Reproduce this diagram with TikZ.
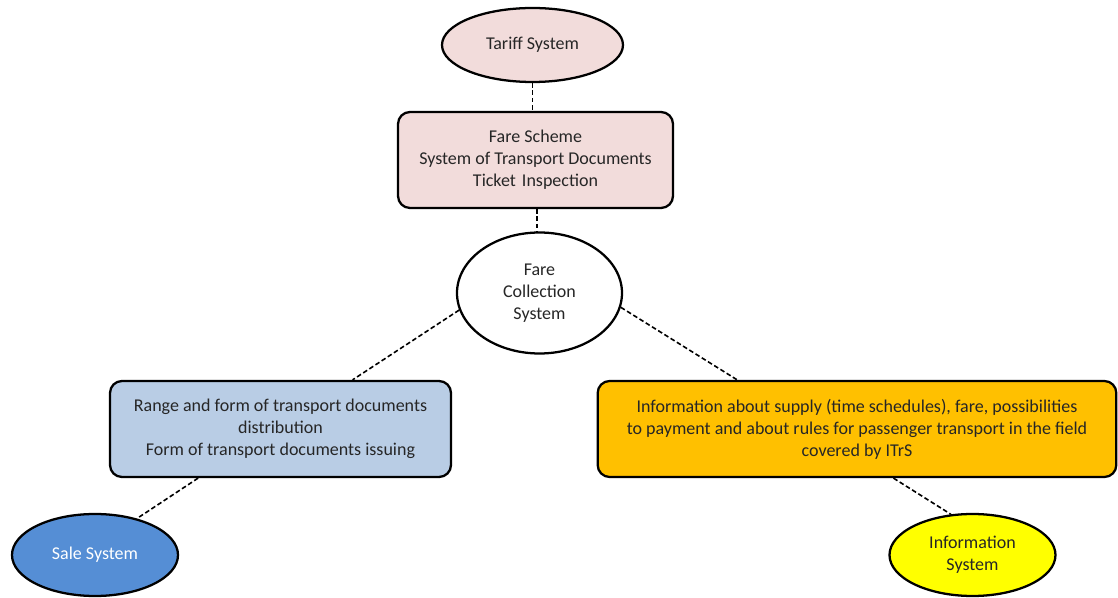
\documentclass[tikz,border=0pt]{standalone}
\usepackage{fontspec}
\setmainfont{Carlito}
\usetikzlibrary{shapes.geometric,calc}
\definecolor{pinkfill}{HTML}{F2DCDB}
\definecolor{bluefill}{HTML}{B9CDE5}
\definecolor{darkblue}{HTML}{558ED5}
\definecolor{orangefill}{HTML}{FFC000}
\definecolor{yellowfill}{HTML}{FFFF00}
\definecolor{txt}{HTML}{262626}
\begin{document}
\begin{tikzpicture}[x=0.75pt,y=-0.75pt,
  every node/.style={font=\fontsize{13.5}{16.5}\selectfont, text=txt},
  ell/.style={ellipse, draw=black, line width=1.7pt, inner sep=0pt, align=center},
  rbox/.style={rectangle, rounded corners=9pt, draw=black, line width=1.7pt, align=center, inner sep=0pt},
  conn/.style={draw=black, line width=1.2pt, dash pattern=on 3.5pt off 2pt}]
\useasboundingbox (0,0) rectangle (1118,598);
\node[ell, fill=pinkfill, minimum width=135.75pt, minimum height=55.5pt] (tariff) at (532.5,45) {Tariff System};
\node[rbox, fill=pinkfill, minimum width=206.25pt, minimum height=72pt] (scheme) at (535.5,160) {Fare Scheme\\System of Transport Documents\\Ticket\,\,Inspection};
\node[ell, fill=white, minimum width=123.75pt, minimum height=90.75pt] (fc) at (539.5,293) {Fare\\Collection\\System};
\node[rbox, fill=bluefill, minimum width=255.75pt, minimum height=72pt] (range) at (280.5,429) {Range and form of transport documents\\distribution\\Form of transport documents issuing};
\node[rbox, fill=orangefill, minimum width=389pt, minimum height=72pt] (info) at (857,429) {Information about supply (time schedules), fare, possibilities\\to payment and about rules for passenger transport in the field\\covered by ITrS};
\node[ell, fill=darkblue, minimum width=124.5pt, minimum height=61.5pt, text=white] (sale) at (95,555) {Sale System};
\node[ell, fill=yellowfill, minimum width=124.5pt, minimum height=61.5pt] (isys) at (972.5,555) {Information\\System};
\draw[conn] (tariff.south) -- (scheme.north -| tariff.south);
\draw[conn] ([xshift=1pt]scheme.south) -- ([xshift=1pt]scheme.south |- fc.north);
\draw[conn] (fc.192) -- ($(range.north west)!0.71!(range.north east)$);
\draw[conn] (fc.350) -- ($(info.north west)!0.27!(info.north east)$);
\draw[conn] ($(range.south west)!0.26!(range.south east)$) -- (sale.41);
\draw[conn] ($(info.south west)!0.57!(info.south east)$) -- (isys.118);
\end{tikzpicture}
\end{document}
